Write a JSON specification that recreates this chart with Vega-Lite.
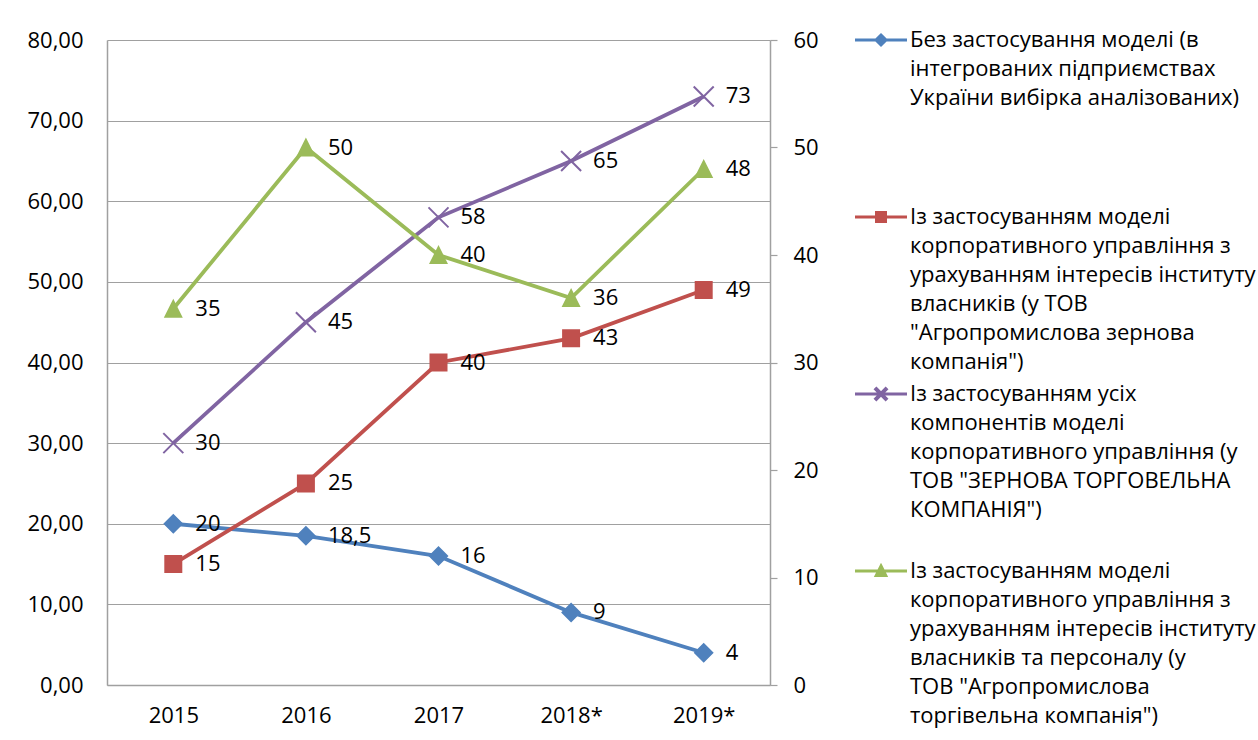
{
  "$schema": "https://vega.github.io/schema/vega-lite/v6.json",
  "autosize": {"type": "none"},
  "width": 663,
  "height": 645,
  "padding": {"left": 107, "top": 40, "right": 488, "bottom": 55},
  "background": "white",
  "config": {
    "font": "Open Sans",
    "view": {"stroke": null},
    "locale": {"number": {"decimal": ",", "thousands": " ", "grouping": [3], "currency": ["", ""]}},
    "axis": {
      "labelFont": "Open Sans",
      "labelFontSize": 22,
      "labelColor": "#000000",
      "domainColor": "#A0A0A0",
      "gridColor": "#A0A0A0",
      "tickColor": "#A0A0A0",
      "title": null
    }
  },
  "data": {
    "values": [
      {"year": "2015", "series": "Без застосування моделі (в|інтегрованих підприємствах|України вибірка аналізованих)", "value": 20, "axis": "L"},
      {"year": "2016", "series": "Без застосування моделі (в|інтегрованих підприємствах|України вибірка аналізованих)", "value": 18.5, "axis": "L"},
      {"year": "2017", "series": "Без застосування моделі (в|інтегрованих підприємствах|України вибірка аналізованих)", "value": 16, "axis": "L"},
      {"year": "2018*", "series": "Без застосування моделі (в|інтегрованих підприємствах|України вибірка аналізованих)", "value": 9, "axis": "L"},
      {"year": "2019*", "series": "Без застосування моделі (в|інтегрованих підприємствах|України вибірка аналізованих)", "value": 4, "axis": "L"},
      {"year": "2015", "series": "Із застосуванням моделі|корпоративного управління з|урахуванням інтересів інституту|власників (у ТОВ|\"Агропромислова зернова|компанія\")", "value": 15, "axis": "L"},
      {"year": "2016", "series": "Із застосуванням моделі|корпоративного управління з|урахуванням інтересів інституту|власників (у ТОВ|\"Агропромислова зернова|компанія\")", "value": 25, "axis": "L"},
      {"year": "2017", "series": "Із застосуванням моделі|корпоративного управління з|урахуванням інтересів інституту|власників (у ТОВ|\"Агропромислова зернова|компанія\")", "value": 40, "axis": "L"},
      {"year": "2018*", "series": "Із застосуванням моделі|корпоративного управління з|урахуванням інтересів інституту|власників (у ТОВ|\"Агропромислова зернова|компанія\")", "value": 43, "axis": "L"},
      {"year": "2019*", "series": "Із застосуванням моделі|корпоративного управління з|урахуванням інтересів інституту|власників (у ТОВ|\"Агропромислова зернова|компанія\")", "value": 49, "axis": "L"},
      {"year": "2015", "series": "Із застосуванням усіх|компонентів моделі|корпоративного управління (у|ТОВ \"ЗЕРНОВА ТОРГОВЕЛЬНА|КОМПАНІЯ\")", "value": 30, "axis": "L"},
      {"year": "2016", "series": "Із застосуванням усіх|компонентів моделі|корпоративного управління (у|ТОВ \"ЗЕРНОВА ТОРГОВЕЛЬНА|КОМПАНІЯ\")", "value": 45, "axis": "L"},
      {"year": "2017", "series": "Із застосуванням усіх|компонентів моделі|корпоративного управління (у|ТОВ \"ЗЕРНОВА ТОРГОВЕЛЬНА|КОМПАНІЯ\")", "value": 58, "axis": "L"},
      {"year": "2018*", "series": "Із застосуванням усіх|компонентів моделі|корпоративного управління (у|ТОВ \"ЗЕРНОВА ТОРГОВЕЛЬНА|КОМПАНІЯ\")", "value": 65, "axis": "L"},
      {"year": "2019*", "series": "Із застосуванням усіх|компонентів моделі|корпоративного управління (у|ТОВ \"ЗЕРНОВА ТОРГОВЕЛЬНА|КОМПАНІЯ\")", "value": 73, "axis": "L"},
      {"year": "2015", "series": "Із застосуванням моделі|корпоративного управління  з|урахуванням інтересів інституту|власників та персоналу (у|ТОВ \"Агропромислова|торгівельна компанія\")", "value": 35, "axis": "R"},
      {"year": "2016", "series": "Із застосуванням моделі|корпоративного управління  з|урахуванням інтересів інституту|власників та персоналу (у|ТОВ \"Агропромислова|торгівельна компанія\")", "value": 50, "axis": "R"},
      {"year": "2017", "series": "Із застосуванням моделі|корпоративного управління  з|урахуванням інтересів інституту|власників та персоналу (у|ТОВ \"Агропромислова|торгівельна компанія\")", "value": 40, "axis": "R"},
      {"year": "2018*", "series": "Із застосуванням моделі|корпоративного управління  з|урахуванням інтересів інституту|власників та персоналу (у|ТОВ \"Агропромислова|торгівельна компанія\")", "value": 36, "axis": "R"},
      {"year": "2019*", "series": "Із застосуванням моделі|корпоративного управління  з|урахуванням інтересів інституту|власників та персоналу (у|ТОВ \"Агропромислова|торгівельна компанія\")", "value": 48, "axis": "R"}
    ]
  },
  "encoding": {
    "x": {
      "field": "year",
      "type": "ordinal",
      "sort": ["2015", "2016", "2017", "2018*", "2019*"],
      "scale": {"type": "point", "padding": 0.5},
      "axis": {"labelAngle": 0, "ticks": false, "labelPadding": 20, "domainWidth": 1.5}
    },
    "color": {
      "field": "series",
      "type": "nominal",
      "scale": {
        "domain": [
          "Без застосування моделі (в|інтегрованих підприємствах|України вибірка аналізованих)",
          "Із застосуванням моделі|корпоративного управління з|урахуванням інтересів інституту|власників (у ТОВ|\"Агропромислова зернова|компанія\")",
          "Із застосуванням усіх|компонентів моделі|корпоративного управління (у|ТОВ \"ЗЕРНОВА ТОРГОВЕЛЬНА|КОМПАНІЯ\")",
          "Із застосуванням моделі|корпоративного управління  з|урахуванням інтересів інституту|власників та персоналу (у|ТОВ \"Агропромислова|торгівельна компанія\")"
        ],
        "range": ["#4F81BD", "#C0504D", "#8064A2", "#9BBB59"]
      },
      "legend": {
        "title": null,
        "orient": "none",
        "legendX": 763,
        "legendY": -11,
        "direction": "vertical",
        "padding": 0,
        "gridAlign": "all",
        "rowPadding": 9,
        "symbolSize": 100,
        "symbolStrokeWidth": 3,
        "labelFont": "Open Sans",
        "labelFontSize": 22,
        "labelColor": "#000000",
        "labelLimit": 500,
        "labelOffset": 18,
        "labelBaseline": "top",
        "labelExpr": "split(datum.label, '|')",
        "encode": {
          "symbols": {"update": {"stroke": {"scale": "color", "field": "value"}, "strokeWidth": {"value": 3}, "opacity": {"value": 1}}},
          "labels": {"update": {"lineHeight": {"value": 29}, "dy": {"value": -10}}}
        }
      }
    },
    "shape": {
      "field": "series",
      "type": "nominal",
      "scale": {
        "domain": [
          "Без застосування моделі (в|інтегрованих підприємствах|України вибірка аналізованих)",
          "Із застосуванням моделі|корпоративного управління з|урахуванням інтересів інституту|власників (у ТОВ|\"Агропромислова зернова|компанія\")",
          "Із застосуванням усіх|компонентів моделі|корпоративного управління (у|ТОВ \"ЗЕРНОВА ТОРГОВЕЛЬНА|КОМПАНІЯ\")",
          "Із застосуванням моделі|корпоративного управління  з|урахуванням інтересів інституту|власників та персоналу (у|ТОВ \"Агропромислова|торгівельна компанія\")"
        ],
        "range": [
          "M-5.2,0H5.2M0,-1L1,0L0,1L-1,0Z",
          "M-5.2,0H5.2M-0.9,-0.9H0.9V0.9H-0.9Z",
          "M-5.2,0H5.2M-0.93,-1.07L1.07,0.93L0.93,1.07L-1.07,-0.93ZM-0.93,1.07L-1.07,0.93L0.93,-1.07L1.07,-0.93Z",
          "M-5.2,0H5.2M0,-1L0.95,0.9H-0.95Z"
        ]
      },
      "legend": null
    }
  },
  "layer": [
    {
      "transform": [{"filter": "datum.axis === 'L'"}],
      "encoding": {
        "y": {
          "field": "value",
          "type": "quantitative",
          "scale": {"domain": [0, 80], "nice": false},
          "axis": {
            "orient": "left",
            "values": [0, 10, 20, 30, 40, 50, 60, 70, 80],
            "format": ".2f",
            "ticks": false,
            "labelPadding": 24,
            "grid": true,
            "gridWidth": 1.2,
            "domainWidth": 1.5
          }
        }
      },
      "layer": [
        {"mark": {"type": "line", "strokeWidth": 3.8}},
        {"mark": {"type": "point", "filled": true, "size": 400, "opacity": 1}},
        {
          "mark": {"type": "text", "align": "left", "baseline": "middle", "dx": 22, "fontSize": 22, "font": "Open Sans", "color": "#000000"},
          "encoding": {"text": {"field": "value", "type": "quantitative", "format": "~f"}, "color": {"value": "#000000"}, "shape": {"value": "circle"}}
        }
      ]
    },
    {
      "transform": [{"filter": "datum.axis === 'R'"}],
      "encoding": {
        "y": {
          "field": "value",
          "type": "quantitative",
          "scale": {"domain": [0, 60], "nice": false},
          "axis": {
            "orient": "right",
            "values": [0, 10, 20, 30, 40, 50, 60],
            "format": "d",
            "ticks": true,
            "tickSize": 7,
            "tickWidth": 1.2,
            "labelPadding": 16,
            "grid": false,
            "domainWidth": 1.5
          }
        }
      },
      "layer": [
        {"mark": {"type": "line", "strokeWidth": 3.8}},
        {"mark": {"type": "point", "filled": true, "size": 400, "opacity": 1}},
        {
          "mark": {"type": "text", "align": "left", "baseline": "middle", "dx": 22, "fontSize": 22, "font": "Open Sans", "color": "#000000"},
          "encoding": {"text": {"field": "value", "type": "quantitative", "format": "~f"}, "color": {"value": "#000000"}, "shape": {"value": "circle"}}
        }
      ]
    }
  ],
  "resolve": {"scale": {"y": "independent"}}
}
